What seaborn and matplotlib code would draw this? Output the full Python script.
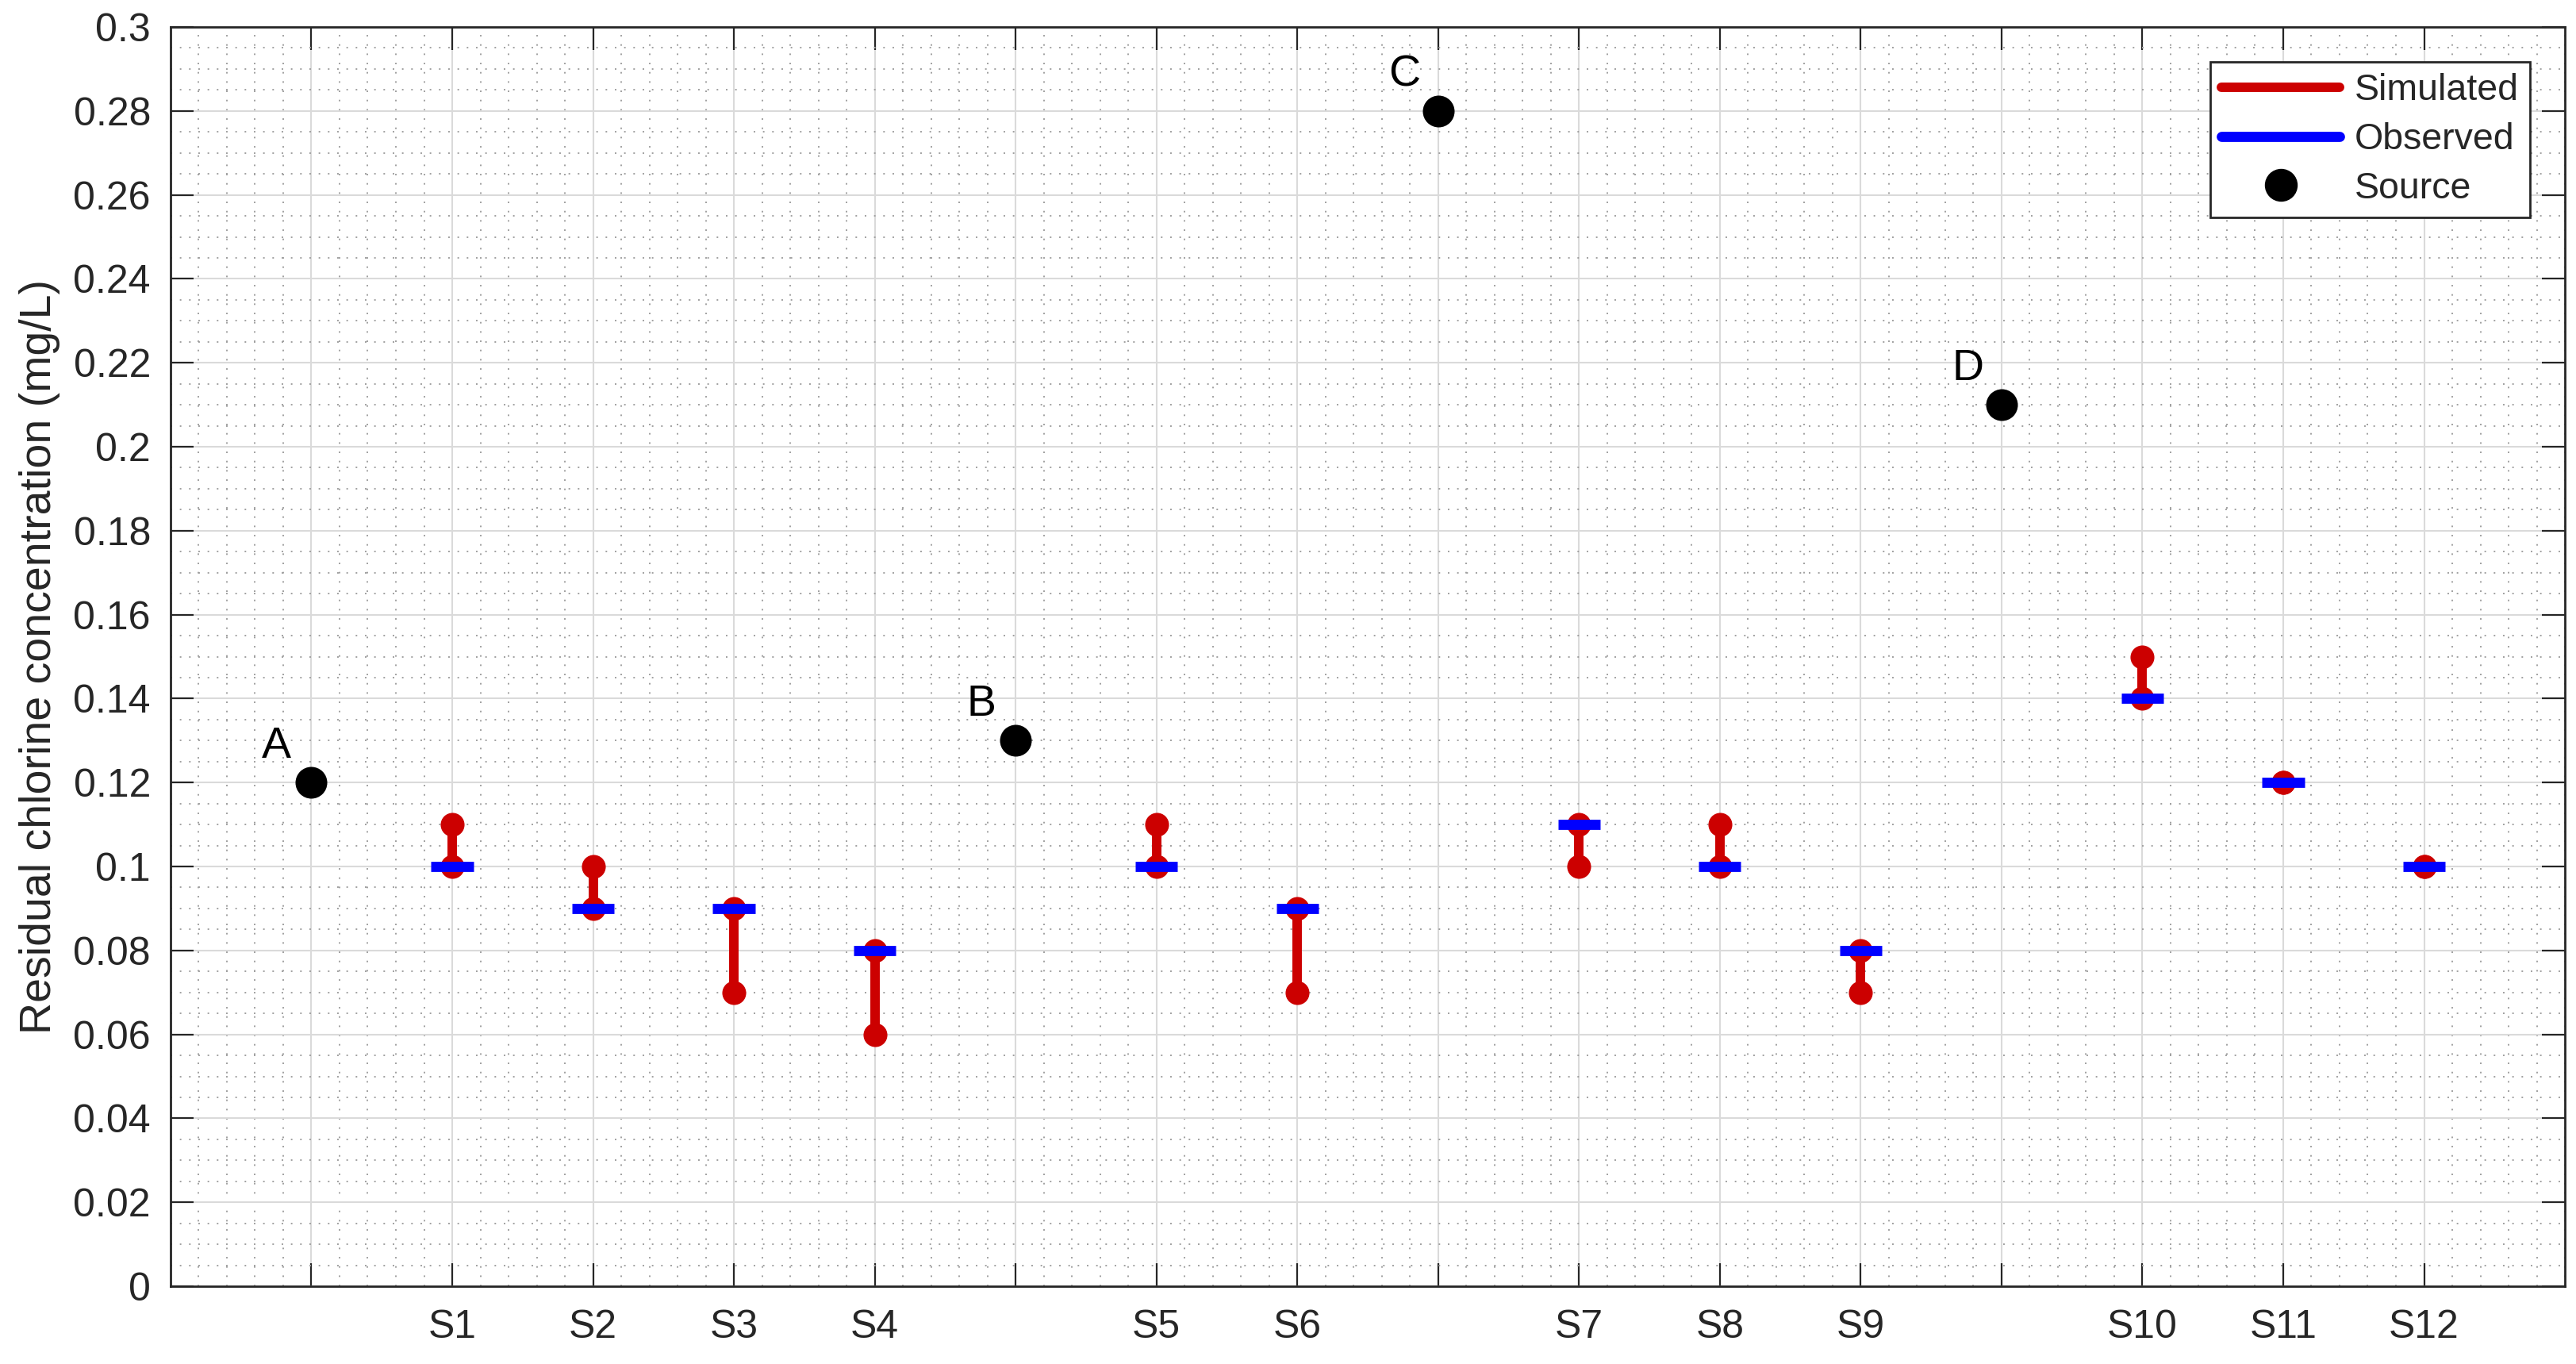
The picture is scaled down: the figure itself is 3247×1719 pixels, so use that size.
import numpy as np
import pandas as pd
import matplotlib
matplotlib.use('Agg')
import matplotlib.pyplot as plt
import seaborn as sns
from matplotlib.lines import Line2D
from matplotlib.ticker import MultipleLocator, FuncFormatter, FixedLocator

# ---------------- data ----------------
order = ['A', 'S1', 'S2', 'S3', 'S4', 'B', 'S5', 'S6', 'C',
         'S7', 'S8', 'S9', 'D', 'S10', 'S11', 'S12']
station_names = ['S1', 'S2', 'S3', 'S4', 'S5', 'S6',
                 'S7', 'S8', 'S9', 'S10', 'S11', 'S12']
sim_min = [0.10, 0.09, 0.07, 0.06, 0.10, 0.07, 0.10, 0.10, 0.07, 0.14, 0.12, 0.10]
sim_max = [0.11, 0.10, 0.09, 0.08, 0.11, 0.09, 0.11, 0.11, 0.08, 0.15, 0.12, 0.10]
observed = [0.10, 0.09, 0.09, 0.08, 0.10, 0.09, 0.11, 0.10, 0.08, 0.14, 0.12, 0.10]
source_names = ['A', 'B', 'C', 'D']
source_conc = [0.12, 0.13, 0.28, 0.21]
y_ticks = [0, 0.02, 0.04, 0.06, 0.08, 0.10, 0.12, 0.14, 0.16, 0.18,
           0.20, 0.22, 0.24, 0.26, 0.28, 0.30]
y_label = 'Residual chlorine concentration (mg/L)'
legend_labels = ['Simulated', 'Observed', 'Source']

pos = {name: i + 1 for i, name in enumerate(order)}
st = pd.DataFrame({'name': station_names, 'lo': sim_min, 'hi': sim_max, 'obs': observed})
st['x'] = st['name'].map(pos)
src = pd.DataFrame({'name': source_names, 'c': source_conc})
src['x'] = src['name'].map(pos)
sim_long = pd.concat([st[['x', 'lo']].rename(columns={'lo': 'v'}),
                      st[['x', 'hi']].rename(columns={'hi': 'v'})])

# ---------------- style ----------------
sns.set_style('white')
plt.rcParams['font.family'] = ['Liberation Sans', 'DejaVu Sans']
RED = '#CC0000'
BLUE = '#0000FF'
DARK = '#262626'

fig = plt.figure(figsize=(32.47, 17.19), dpi=100)
ax = fig.add_axes([0.0662, 0.0570, 0.9295, 0.9232])

# simulated ranges
ax.vlines(st['x'], st['lo'], st['hi'], colors=RED, linewidth=8.6,
          capstyle='butt', zorder=3)
sns.scatterplot(data=sim_long, x='x', y='v', ax=ax, color=RED, s=470,
                linewidth=0, zorder=4, legend=False)
# observed
ax.hlines(st['obs'], st['x'] - 0.15, st['x'] + 0.15, colors=BLUE,
          linewidth=9.2, capstyle='butt', zorder=5)
# sources
sns.scatterplot(data=src, x='x', y='c', ax=ax, color='black', s=830,
                linewidth=0, zorder=6, legend=False)
for _, r in src.iterrows():
    ax.text(r['x'] - 0.35, r['c'] + 0.0086, r['name'], fontsize=40,
            ha='left', va='center', color='black', zorder=7)

# axes
ax.set_xlim(0, len(order) + 1)
ax.set_ylim(y_ticks[0], y_ticks[-1])
ax.xaxis.set_major_locator(FixedLocator(list(range(1, len(order) + 1))))
ax.set_xticklabels([n if n.startswith('S') else '' for n in order])
ax.yaxis.set_major_locator(FixedLocator(y_ticks))
ax.yaxis.set_major_formatter(FuncFormatter(lambda v, p: '%g' % round(v, 4)))
ax.xaxis.set_minor_locator(MultipleLocator(0.2))
ax.yaxis.set_minor_locator(MultipleLocator(0.005))
ax.set_xlabel('')
ax.set_ylabel(y_label, fontsize=40, color=DARK)
ax.yaxis.set_label_coords(-0.0462, 0.5)

ax.set_axisbelow(True)
ax.grid(which='major', color='#dadada', linewidth=1.5, linestyle='-', zorder=0)
ax.grid(which='minor', color='#a0a0a0', linewidth=1.4, linestyle=(0, (1, 5)), zorder=0)

ax.tick_params(which='major', direction='in', length=21, width=1.6,
               top=True, right=True, bottom=True, left=True,
               color=DARK, labelcolor=DARK, labelsize=36)
ax.tick_params(which='minor', length=0)
ax.tick_params(axis='x', pad=21)
ax.tick_params(axis='y', pad=18)
for sp in ax.spines.values():
    sp.set_visible(True)
    sp.set_color(DARK)
    sp.set_linewidth(2.0)

handles = [Line2D([], [], color=RED, linewidth=8.6),
           Line2D([], [], color=BLUE, linewidth=9.2),
           Line2D([], [], color='black', marker='o', linestyle='none', markersize=28.8)]
leg = ax.legend(handles, legend_labels, loc='upper right', fontsize=33.5,
                frameon=True, fancybox=False, framealpha=1, edgecolor=DARK,
                handlelength=3.2, handletextpad=0.4, borderpad=0.3,
                labelspacing=0.38, borderaxespad=0.95)
leg.get_frame().set_linewidth(2.0)
for t in leg.get_texts():
    t.set_color(DARK)

fig.savefig('out.png', dpi=100)
